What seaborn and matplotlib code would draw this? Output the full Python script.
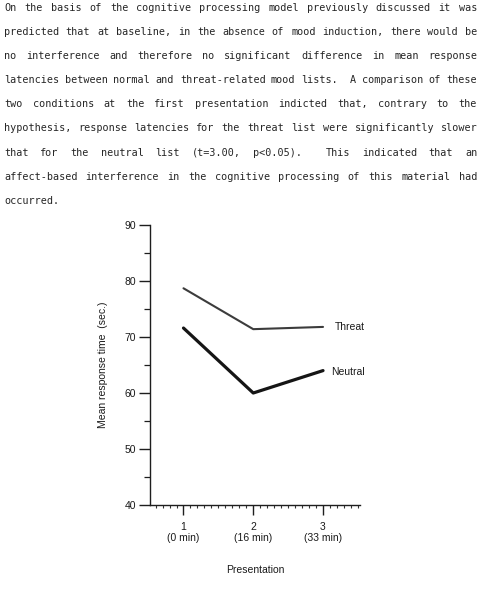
import re
import matplotlib
matplotlib.use("Agg")
import matplotlib.pyplot as plt
import seaborn as sns
import pandas as pd
import numpy as np

# values
presentations = [1, 2, 3]
tick_labels = ["1\n(0 min)", "2\n(16 min)", "3\n(33 min)"]
threat = [78.7, 71.4, 71.8]
neutral = [71.6, 60.0, 64.0]
y_ticks = [40, 50, 60, 70, 80, 90]

paragraph = [
    "On the basis of the cognitive processing model previously discussed it was",
    "predicted that at baseline, in the absence of mood induction, there would be",
    "no interference and therefore no significant difference in mean response",
    "latencies between normal and threat-related mood lists.  A comparison of these",
    "two conditions at the first presentation indicted that, contrary to the",
    "hypothesis, response latencies for the threat list were significantly slower",
    "that for the neutral list (t=3.00, p<0.05).  This indicated that an",
    "affect-based interference in the cognitive processing of this material had",
    "occurred.",
]

W, H = 480, 589
sns.set_style("ticks")
plt.rcParams["font.family"] = ["Liberation Sans", "DejaVu Sans"]

fig = plt.figure(figsize=(W / 100, H / 100), dpi=100)

# typed paragraph, justified like the typewriter page
mono_pt = 7.25
cw = 0.602 * mono_pt * 100 / 72
x_left, x_right = 4, 477
ink = "#262626"
for i, line in enumerate(paragraph):
    y = 11 + 24.1 * i
    if i == len(paragraph) - 1:
        fig.text(x_left / W, 1 - y / H, line, family="DejaVu Sans Mono",
                 fontsize=mono_pt, color=ink, va="baseline", ha="left")
        continue
    words = list(re.finditer(r"\S+", line))
    letters = sum(len(m.group()) for m in words)
    spaces = sum(words[k + 1].start() - words[k].end() for k in range(len(words) - 1))
    unit = ((x_right - x_left) - letters * cw) / spaces
    x = x_left
    for k, m in enumerate(words):
        fig.text(x / W, 1 - y / H, m.group(), family="DejaVu Sans Mono",
                 fontsize=mono_pt, color=ink, va="baseline", ha="left")
        if k < len(words) - 1:
            x += len(m.group()) * cw + (words[k + 1].start() - m.end()) * unit

# the chart
ax = fig.add_axes([150 / W, 1 - 505 / H, 210 / W, 280 / H])
df = pd.DataFrame({
    "Presentation": presentations * 2,
    "Time": threat + neutral,
    "List": ["Threat"] * 3 + ["Neutral"] * 3,
})
sns.lineplot(df, x="Presentation", y="Time", hue="List", size="List",
             sizes={"Threat": 1.5, "Neutral": 2.3},
             palette={"Threat": "#3c3c3c", "Neutral": "#151515"},
             legend=False, ax=ax)

ax.text(presentations[-1] + 0.17, threat[-1], "Threat", fontsize=7.5,
        va="center", ha="left", color="#1a1a1a")
ax.text(presentations[-1] + 0.11, neutral[-1] - 0.3, "Neutral", fontsize=7.5,
        va="center", ha="left", color="#1a1a1a")

ax.set_xlim(0.52, 3.53)
ax.set_ylim(40, 90)
ax.set_yticks(y_ticks)
ax.set_yticks(np.arange(45, 90, 10), minor=True)
ax.set_xticks(presentations)
ax.set_xticklabels(tick_labels, linespacing=1.15)
ax.set_xticks(np.arange(0.6, 3.55, 0.1), minor=True)

for side in ["top", "right"]:
    ax.spines[side].set_visible(False)
for side in ["left", "bottom"]:
    ax.spines[side].set_color("#1e1e1e")
    ax.spines[side].set_linewidth(1.0)

ax.tick_params(axis="both", which="both", left=True, bottom=True)
ax.tick_params(axis="y", which="major", direction="out", length=8, width=1,
               color="#1e1e1e", labelsize=7.5, pad=2, labelcolor="#1a1a1a")
ax.tick_params(axis="y", which="minor", direction="out", length=4, width=0.9,
               color="#1e1e1e")
ax.tick_params(axis="x", which="major", direction="out", length=7, width=1,
               color="#1e1e1e", labelsize=7.5, pad=5, labelcolor="#1a1a1a")
ax.tick_params(axis="x", which="minor", direction="out", length=2, width=0.8,
               color="#333333")

ax.set_ylabel("Mean response time  (sec.)", fontsize=7.5, color="#1a1a1a")
ax.set_xlabel("Presentation", fontsize=7.5, color="#1a1a1a")
ax.yaxis.set_label_coords(-0.2, 0.5)
ax.xaxis.set_label_coords(0.5, -0.215)
ax.grid(False)

fig.savefig("out.png", dpi=100, facecolor="white")
